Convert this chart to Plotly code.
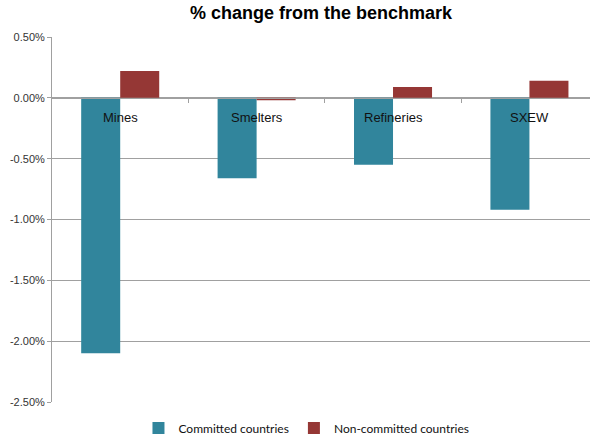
import plotly.graph_objects as go

categories = ["Mines", "Smelters", "Refineries", "SXEW"]
committed = [-2.10, -0.66, -0.55, -0.92]
non_committed = [0.22, -0.02, 0.09, 0.14]
tick_vals = [0.5, 0.0, -0.5, -1.0, -1.5, -2.0, -2.5]
tick_text = ["0.50%", "0.00%", "-0.50%", "-1.00%", "-1.50%", "-2.00%", "-2.50%"]

TEAL = "#31859C"
RED = "#953735"
xs = list(range(len(categories)))

fig = go.Figure()
fig.add_trace(go.Bar(x=xs, y=committed, name="Committed countries",
                     marker=dict(color=TEAL, line=dict(width=0))))
fig.add_trace(go.Bar(x=xs, y=non_committed, name="Non-committed countries",
                     marker=dict(color=RED, line=dict(width=0))))

for i, c in enumerate(categories):
    fig.add_annotation(x=i, y=0, xref="x", yref="y", text=c, showarrow=False,
                       yshift=-20, font=dict(family="Liberation Sans, Arial", size=13, color="#111111"))

ymin, ymax = -2.5, 0.5
fig.update_layout(
    width=590, height=435,
    margin=dict(l=52, r=0, t=37, b=33, autoexpand=False),
    paper_bgcolor="white", plot_bgcolor="white",
    barmode="group", bargap=0.428, bargroupgap=0,
    title=dict(text="<b>% change from the benchmark</b>", x=0.5, xref="paper", xanchor="center",
               y=1 - 13 / 435, yanchor="middle",
               font=dict(family="Liberation Sans, Arial", size=18, color="#000000")),
    showlegend=True,
    legend=dict(orientation="h", x=0.473, xanchor="center", yref="container",
                y=7 / 435, yanchor="middle",
                font=dict(family="Lato, Noto Sans", size=12, color="#111111"),
                itemwidth=30, traceorder="normal", bgcolor="rgba(0,0,0,0)"),
    xaxis=dict(range=[-0.5, 3.444], showgrid=False, zeroline=False,
               anchor="free", position=(0 - ymin) / (ymax - ymin),
               showline=True, linecolor="#A0A0A0", linewidth=1,
               tickmode="array", tickvals=[0.5, 1.5, 2.5], ticks="outside", ticklen=4,
               tickcolor="#A0A0A0", showticklabels=False),
    yaxis=dict(range=[ymin, ymax], tickmode="array", tickvals=tick_vals, ticktext=tick_text,
               showgrid=True, gridcolor="#A0A0A0", gridwidth=1, zeroline=False,
               showline=True, linecolor="#A0A0A0", linewidth=1,
               ticks="outside", ticklen=4, tickcolor="#A0A0A0",
               tickfont=dict(family="Liberation Sans, Arial", size=11, color="#333333")),
)

fig.write_html("out.html")
